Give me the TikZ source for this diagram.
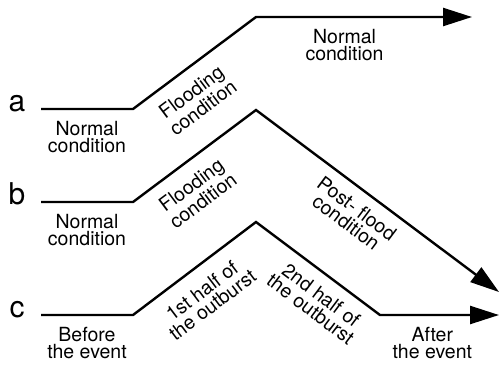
\documentclass[tikz,border=0pt]{standalone}
\usepackage{fontspec}
\setmainfont{TeX Gyre Heros}
\usetikzlibrary{arrows.meta}

\tikzset{%
        every phase/.style={
            font=\fontsize{19.5}{17.5}\selectfont,
            align=center,
            inner sep=0pt,
            sloped,
            anchor=center
        },
        phase/.style={
            every phase,
            yshift=-#1
        },
        phase/.default=28pt,
        timeline/.style={
            line width=2.4pt
        },
        case letter/.style={
            font=\fontsize{30}{30}\selectfont,
            anchor=mid
        },
    }

\begin{document}
\begin{tikzpicture}[x=1pt, y=-1pt, >={Triangle[length=29pt,width=18pt]}]

        \useasboundingbox (0,0) rectangle (501,365);

        \foreach \l/\y in {a/109,b/202,c/315}
        \node [case letter] (case-\l) at (17,\y) {\l};

        % corners of the time lines
        \coordinate (a-0) at (41,109);
        \coordinate (a-1) at (133,109);
        \coordinate (a-2) at (256,17);
        \coordinate (a-3) at (472,17);

        \coordinate (b-0) at (41,202);
        \coordinate (b-1) at (133,202);
        \coordinate (b-2) at (256,110);
        \coordinate (b-3) at (499,292);

        \coordinate (c-0) at (41,315);
        \coordinate (c-1) at (133,315);
        \coordinate (c-2) at (256,222);
        \coordinate (c-3) at (380,315);
        \coordinate (c-4) at (499,315);

        \draw [timeline, ->] (a-0)
            -- node [phase] {Normal\\condition} (a-1)
            -- node [phase=31pt, pos=0.37] {Flooding\\condition} (a-2)
            -- node [phase, pos=0.41] {Normal\\condition} (a-3);

        \draw [timeline, ->] (b-0)
            -- node [phase] {Normal\\condition} (b-1)
            -- node [phase=31pt, pos=0.37] {Flooding\\condition} (b-2)
            -- node [phase=27pt, pos=0.46] {Post- flood\\condition} (b-3);

        \draw [timeline, ->] (c-0)
            -- node [phase] {Before\\the event} (c-1)
            -- node [phase=31pt, pos=0.45] {1st half of\\the outburst} (c-2)
            -- node [phase, pos=0.62] {2nd half of\\the outburst} (c-3)
            -- node [phase, pos=0.44] {After\\the event} (c-4);
    \end{tikzpicture}
\end{document}
